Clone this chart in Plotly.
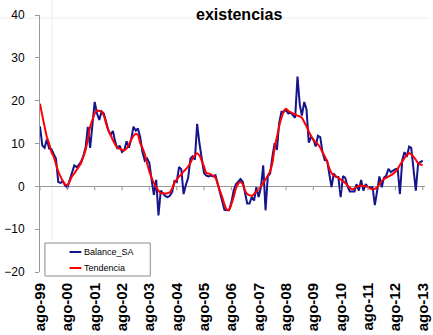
import pandas as pd
import plotly.graph_objects as go

# Monthly series, ago-1999 .. ago-2013
balance_sa = [
    14, 9.5, 9, 11, 8.8, 8.7, 7.5, 6.5, 1, 0.8, 1.2, 0.2, -0.3, 1.5, 3.7, 4.9, 4.5, 5, 5.8, 7,
    9, 13.9, 9, 14.5, 19.7, 17, 15.5, 17.5, 17, 15, 13, 12, 12.9, 10.5, 8.7, 9.5, 8, 8.5, 10.5, 9,
    10.9, 13.9, 13, 13.5, 11.5, 8, 6, 6.5, 5.5, 1.5, -2, 1.5, -6.8, -1, -1.8, -2.3, -2.5, -2.2, -1.3, 1.2,
    1, 4.5, 4, -1.8, 0.3, 2, 6.5, 7, 6.2, 14.6, 10, 6.5, 3.1, 2.5, 2.3, 2.5, 2.3, 2.6, 0.5, -1.5,
    -4, -5.5, -5.6, -5.6, -3.8, -1, 0.5, 1.2, 1.7, 1, -2, -4, -4, -2.5, -3.3, -0.2, -2.5, -0.2, 4.9, -5.6,
    2.3, 3, 7, 10.1, 8.5, 14.8, 17.4, 17.4, 17.8, 17, 17.2, 16.6, 16, 25.6, 19, 16.5, 19.7, 18, 10.2, 11.5,
    11, 9.3, 11.8, 11.5, 8, 6.1, 6, 3, -0.2, 3, 2.2, 2.2, -2.5, 2.4, 2, 0, -1.2, -1.2, -1.2, 0.5,
    -1, 1.5, -1, 0.5, -0.2, -0.2, -0.2, -4.4, -1, 2.3, -0.2, 2, 2.5, 4.1, 3.3, 3.7, 4, 4.1, -1.8, 6.1,
    8, 6.9, 9.3, 9, 4.2, -1, 5.3, 5.6, 6,
]
tendencia = [
    19.3, 16.5, 14, 11.5, 10, 8, 6.9, 5.2, 3.5, 2.3, 1.2, 0.5, 0.3, 1.2, 2.3, 3, 3.8, 4.6, 5.5, 6.9,
    8.5, 11, 13.9, 15.5, 17, 17.7, 17.6, 17.4, 16.5, 14.6, 13, 12, 10.8, 9.8, 9, 8.8, 8.5, 8.4, 8.8, 9.8,
    10.8, 11.8, 12.3, 12, 10.1, 9, 7.5, 5.4, 3.5, 2, 0.8, -0.2, -1, -1.6, -1.6, -1.7, -1.6, -1.4, -0.5, 0.8,
    1.6, 2.3, 2.8, 3.5, 4, 4.6, 5.5, 6.5, 7.2, 7.7, 7.2, 6, 4.6, 3.1, 3, 2.8, 2.5, 2, 0.5, -1,
    -2.5, -4.2, -5.4, -5.5, -4.2, -2.5, -0.5, 0.6, 1, 0.5, -1, -1.8, -2.1, -2.2, -1.8, -1.2, -0.7, 0, 0.8, 1.6,
    2.5, 3.5, 5.5, 8.9, 11.5, 14, 16, 17.5, 18.1, 17.6, 17.3, 17, 16.8, 16.5, 16.3, 16, 15, 14, 12.8, 11.8,
    10.8, 10.3, 9.8, 9, 8, 7, 5.8, 4.3, 3.1, 2.6, 2.3, 2, 1.6, 1.2, 0.8, 0.2, -0.3, -0.7, -0.5, -0.1,
    0.1, 0.2, 0.1, 0, -0.2, -0.5, -0.7, -0.6, -0.2, 0.5, 1.2, 1.7, 2, 2.3, 2.6, 2.9, 3.4, 4.1, 5, 5.8,
    6.6, 7.3, 7.7, 7.5, 6.9, 6.2, 5.4, 5.1, 5,
]
series_names = ["Balance_SA", "Tendencia"]
series_colors = ["#14148c", "#ff0000"]
tick_labels = ["ago-99", "ago-00", "ago-01", "ago-02", "ago-03", "ago-04", "ago-05", "ago-06",
               "ago-07", "ago-08", "ago-09", "ago-10", "ago-11", "ago-12", "ago-13"]
y_ticks = [-20, -10, 0, 10, 20, 30, 40]

dates = pd.date_range("1999-08-01", periods=len(balance_sa), freq="MS")
tick_dates = list(dates[::12])

fig = go.Figure()
fig.add_trace(go.Scatter(x=dates, y=balance_sa, mode="lines", name=series_names[0],
                         showlegend=False, line=dict(color=series_colors[0], width=2)))
fig.add_trace(go.Scatter(x=dates, y=tendencia, mode="lines", name=series_names[1],
                         showlegend=False, line=dict(color=series_colors[1], width=2, shape="spline")))

shapes = []
for d in tick_dates:
    shapes.append(dict(type="line", xref="x", yref="y", x0=d, x1=d, ysizemode="pixel",
                       yanchor=0, y0=0, y1=-4, line=dict(color="#999999", width=1)))
# faint background frame artefacts
shapes.append(dict(type="line", xref="paper", yref="paper", x0=-0.11, x1=1.01, y0=0.988, y1=0.988,
                   line=dict(color="#ececec", width=1), layer="below"))
shapes.append(dict(type="line", xref="paper", yref="paper", x0=0.031, x1=0.031, y0=0.12, y1=1.06,
                   line=dict(color="#ececec", width=1), layer="below"))

# legend box (drawn manually to match the compact original)
shapes.append(dict(type="rect", xref="paper", yref="paper", x0=0.0128, x1=0.2864, y0=-0.0156, y1=0.1128,
                   line=dict(color="#8c8c8c", width=1), fillcolor="white"))
legend_y = [0.0778, 0.0156]
annotations = []
for name, color, ly in zip(series_names, series_colors, legend_y):
    shapes.append(dict(type="line", xref="paper", yref="paper", x0=0.0767, x1=0.1074, y0=ly, y1=ly,
                       line=dict(color=color, width=2)))
    annotations.append(dict(text=name, xref="paper", yref="paper", x=0.1074, y=ly, xanchor="left",
                            yanchor="middle", showarrow=False, font=dict(size=9), xshift=1))

annotations.append(dict(text="<b>existencias</b>", xref="paper", yref="paper", x=0.517, y=1,
                        xanchor="center", yanchor="middle", yshift=1, showarrow=False,
                        font=dict(size=16)))

fig.update_layout(
    width=433, height=335,
    margin=dict(l=40, r=2, t=15, b=63),
    paper_bgcolor="white", plot_bgcolor="white",
    font=dict(family="Liberation Sans, Arial, sans-serif", color="black"),
    xaxis=dict(range=["1999-08-01", "2013-09-01"], tickvals=tick_dates, ticktext=tick_labels,
               tickangle=-90,
               tickfont=dict(size=15, family="Liberation Sans, Arial, sans-serif", weight="bold"),
               showgrid=False, zeroline=False, showline=False, ticks="", ticklabelstandoff=7,
               ticklabeloverflow="allow"),
    yaxis=dict(range=[-20, 40], tickvals=y_ticks, showgrid=False, zeroline=True,
               zerolinecolor="#999999", zerolinewidth=1, showline=True, linecolor="#999999",
               ticks="outside", ticklen=4, tickcolor="#999999", tickfont=dict(size=12),
               ticklabelstandoff=8),
    shapes=shapes,
    annotations=annotations,
)
fig.write_html("out.html", config={"displayModeBar": False},
               post_script="document.body.style.margin='0';document.body.style.overflow='hidden';")
